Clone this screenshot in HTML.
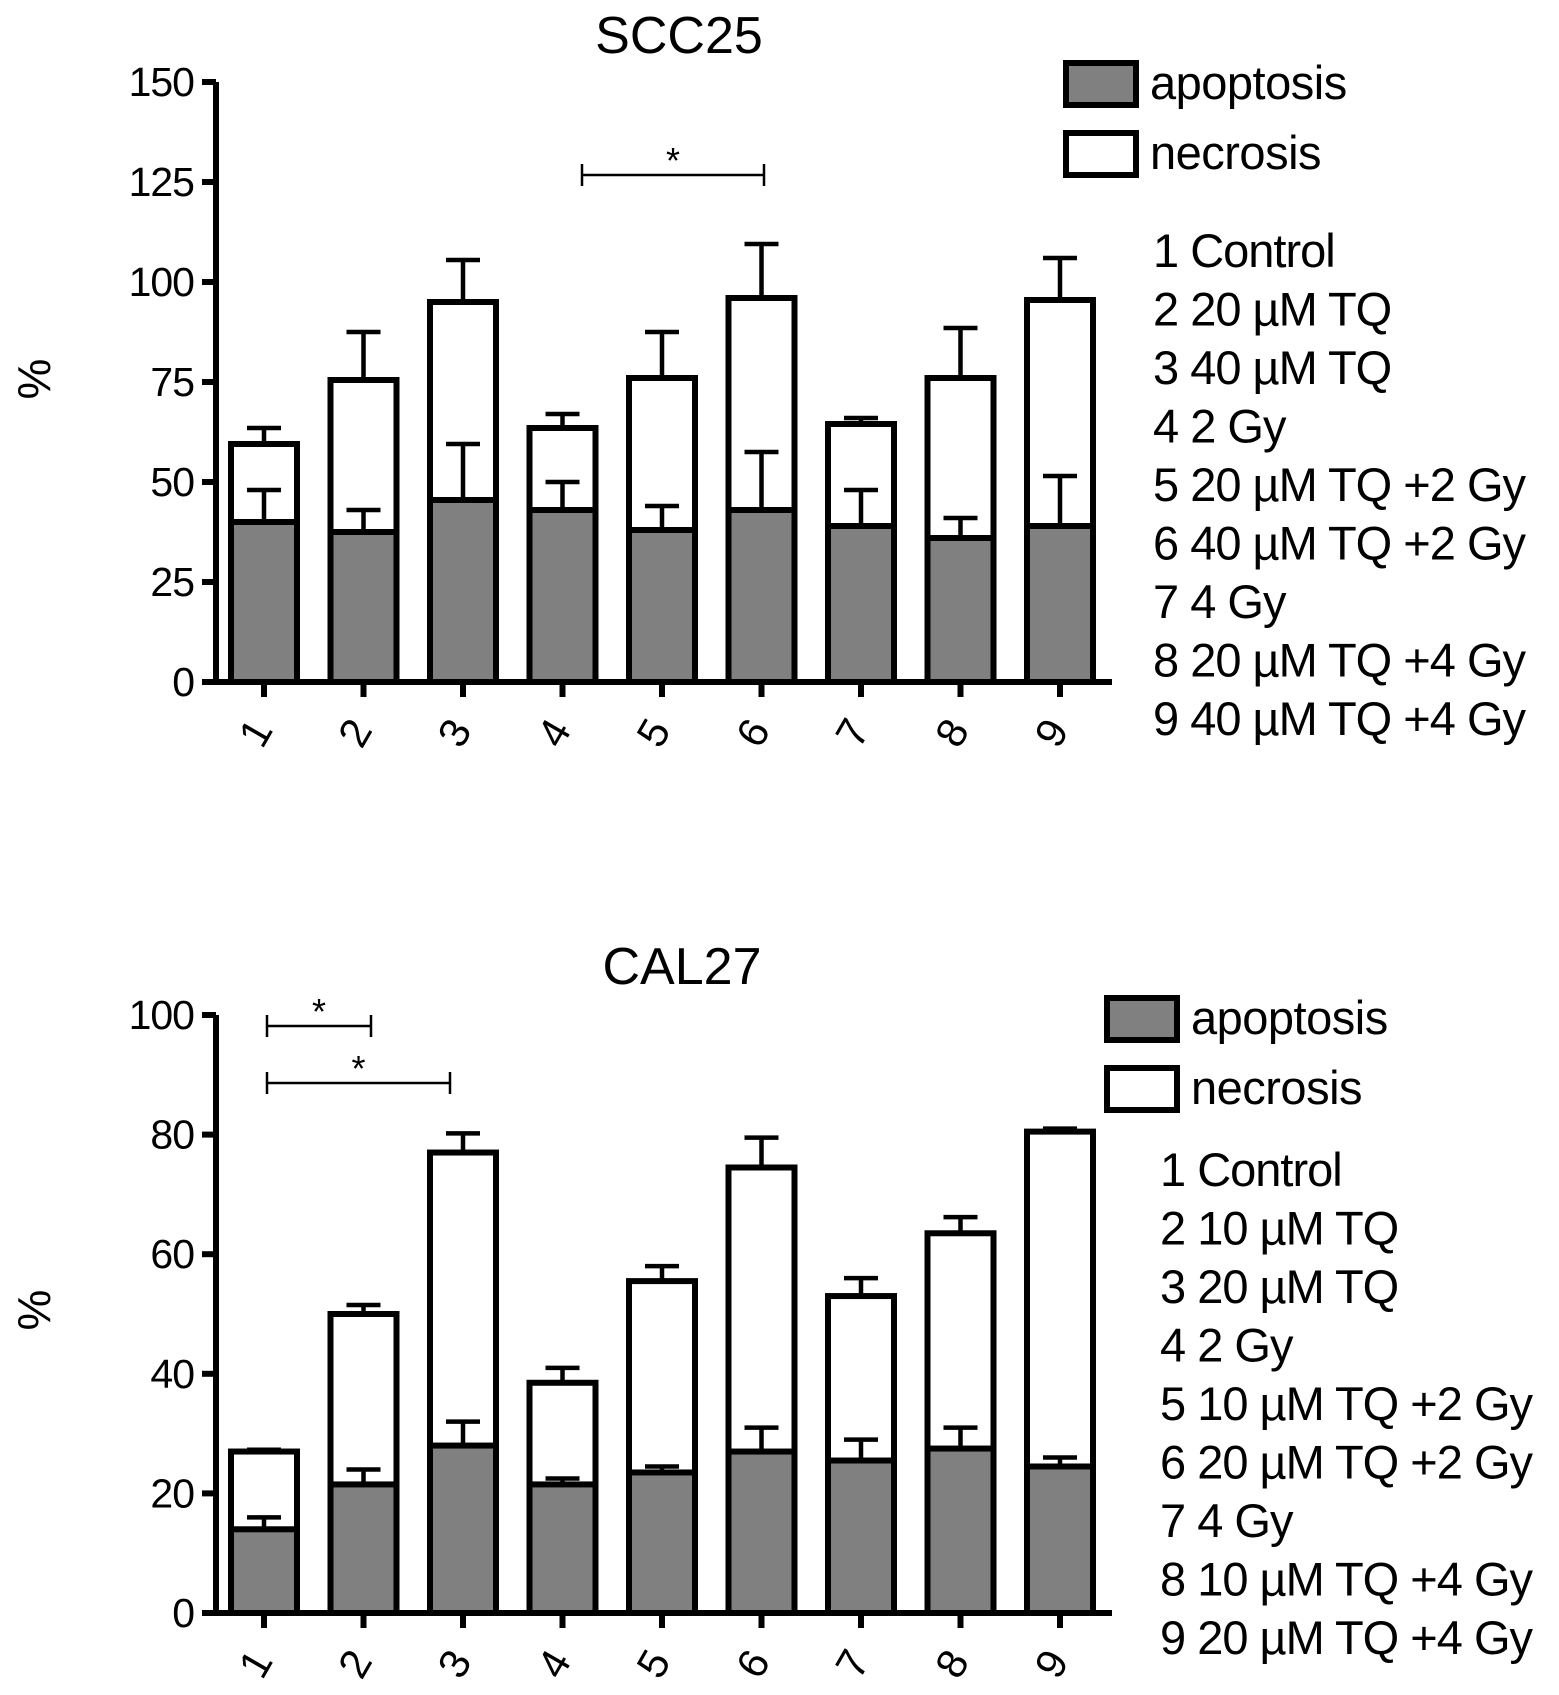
<!DOCTYPE html>
<html><head><meta charset="utf-8"><style>
html,body{margin:0;padding:0;background:#fff}
svg{display:block;font-family:"Liberation Sans",sans-serif}
</style></head><body>
<svg id="svg" width="1559" height="1695" viewBox="0 0 1559 1695"></svg>
<script>
const categories = ["1","2","3","4","5","6","7","8","9"];
const topApop = [40,37.5,45.5,43,38,43,39,36,39];
const topApopErr = [48,43,59.5,50,44,57.5,48,41,51.5];
const topTotal = [59.5,75.5,95,63.5,76,96,64.5,76,95.5];
const topTotalErr = [63.5,87.5,105.5,67,87.5,109.5,66,88.5,106];
const topTicks = [0,25,50,75,100,125,150];
const topLegend = ["1 Control","2 20 µM TQ","3 40 µM TQ","4 2 Gy","5 20 µM TQ +2 Gy","6 40 µM TQ +2 Gy","7 4 Gy","8 20 µM TQ +4 Gy","9 40 µM TQ +4 Gy"];
const botApop = [14,21.5,28,21.5,23.5,27,25.5,27.5,24.5];
const botApopErr = [16,24,32,22.5,24.5,31,29,31,26];
const botTotal = [27,50,77,38.5,55.5,74.5,53,63.5,80.5];
const botTotalErr = [27.3,51.5,80.2,41,58,79.5,56,66.2,81];
const botTicks = [0,20,40,60,80,100];
const botLegend = ["1 Control","2 10 µM TQ","3 20 µM TQ","4 2 Gy","5 10 µM TQ +2 Gy","6 20 µM TQ +2 Gy","7 4 Gy","8 10 µM TQ +4 Gy","9 20 µM TQ +4 Gy"];

const NS="http://www.w3.org/2000/svg";
const svg=document.getElementById('svg');
function mk(tag,attrs,parent,text){const e=document.createElementNS(NS,tag);for(const k in attrs)e.setAttribute(k,attrs[k]);if(text!==undefined)e.textContent=text;(parent||svg).appendChild(e);return e;}

function panel(o){
  const g=mk('g',{});
  
  
  const y=v=>o.y0-(v-0)*(o.y0-o.yTop)/o.max;
  const x=i=>264+i*99.5;
  const bw=66;
  const t=mk('text',{x:o.titleX,y:o.titleY,'font-size':52,'text-anchor':'middle'},g,o.title);
  
  
  const yl=mk('text',{x:0,y:0,'font-size':46,'text-anchor':'middle',transform:`translate(50,${o.ylY}) rotate(-90)`},g,'%');
  
  
  categories.forEach((c,i)=>{
    const cx=x(i);
    const bg=mk('g',{},g);
    
    
    mk('line',{x1:cx,x2:cx,y1:y(o.total[i]),y2:y(o.totalErr[i]),stroke:'#000','stroke-width':4.5},bg);
    mk('line',{x1:cx-17,x2:cx+17,y1:y(o.totalErr[i]),y2:y(o.totalErr[i]),stroke:'#000','stroke-width':4.5},bg);
    const nb=mk('rect',{x:cx-bw/2,y:y(o.total[i]),width:bw,height:y(0)-y(o.total[i]),fill:'#fff',stroke:'#000','stroke-width':6},bg);
    
    
    const ab=mk('rect',{x:cx-bw/2,y:y(o.apop[i]),width:bw,height:y(0)-y(o.apop[i]),fill:'#808080',stroke:'#000','stroke-width':6},bg);
    
    
    mk('line',{x1:cx,x2:cx,y1:y(o.apop[i]),y2:y(o.apopErr[i]),stroke:'#000','stroke-width':4.5},bg);
    mk('line',{x1:cx-17,x2:cx+17,y1:y(o.apopErr[i]),y2:y(o.apopErr[i]),stroke:'#000','stroke-width':4.5},bg);
    mk('line',{x1:cx,x2:cx,y1:y(0),y2:y(0)+15,stroke:'#000','stroke-width':6},g);
    const tl=mk('text',{x:0,y:0,'font-size':42,'text-anchor':'middle',transform:`translate(${cx+4},${y(0)+58}) rotate(-60)`},g,c);
    
    
  });
  const ax=mk('path',{d:`M216,${o.yTop} L216,${y(0)} L1112,${y(0)}`,fill:'none',stroke:'#000','stroke-width':6},g);
  
  
  o.ticks.forEach(v=>{
    mk('line',{x1:202,x2:216,y1:y(v),y2:y(v),stroke:'#000','stroke-width':6},g);
    const tt=mk('text',{x:194,y:y(v)+14,'font-size':41,'text-anchor':'end','letter-spacing':-1},g,String(v));
    
    
  });
  o.sig.forEach(s=>{
    const sg=mk('g',{},g);
    
    
    mk('line',{x1:s[0],x2:s[1],y1:s[2],y2:s[2],stroke:'#000','stroke-width':2.5},sg);
    mk('line',{x1:s[0],x2:s[0],y1:s[2]-11,y2:s[2]+11,stroke:'#000','stroke-width':2.5},sg);
    mk('line',{x1:s[1],x2:s[1],y1:s[2]-11,y2:s[2]+11,stroke:'#000','stroke-width':2.5},sg);
    mk('text',{x:(s[0]+s[1])/2,y:s[2]-2,'font-size':36,'text-anchor':'middle'},sg,'*');
  });
  const lg=mk('g',{},g);
  
  
  [['apoptosis','#808080'],['necrosis','#fff']].forEach((l,k)=>{
    const yy=o.legY+k*70;
    mk('rect',{x:o.legX,y:yy,width:70,height:42,fill:l[1],stroke:'#000','stroke-width':6},lg);
    mk('text',{x:o.legX+84,y:yy+36,'font-size':47,'letter-spacing':-0.5},lg,l[0]);
  });
  o.list.forEach((s,k)=>{
    const lt=mk('text',{x:o.listX,y:o.listY+k*58.5,'font-size':47,'letter-spacing':-1},lg,s);
    
    
  });
}
panel({name:'scc25-panel',title:'SCC25',titleX:679,titleY:53,ylY:379,y0:682,yTop:82,max:150,ticks:topTicks,
  apop:topApop,apopErr:topApopErr,total:topTotal,totalErr:topTotalErr,
  sig:[[582,764,175]],legX:1066,legY:63,list:topLegend,listX:1153,listY:267});
panel({name:'cal27-panel',title:'CAL27',titleX:682,titleY:984,ylY:1310,y0:1613,yTop:1015,max:100,ticks:botTicks,
  apop:botApop,apopErr:botApopErr,total:botTotal,totalErr:botTotalErr,
  sig:[[267,371,1026],[267,450,1083]],legX:1107,legY:998,list:botLegend,listX:1160,listY:1186});
</script>
</body></html>
